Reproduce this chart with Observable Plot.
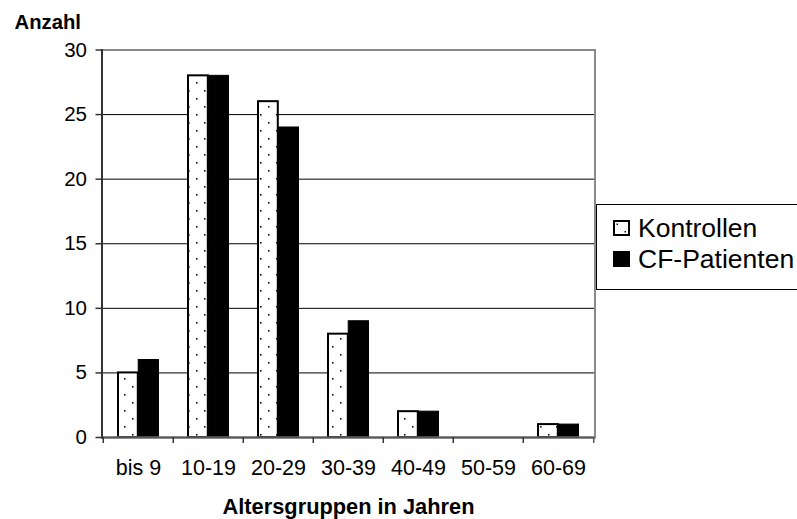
<!DOCTYPE html>
<html>
<head>
<meta charset="utf-8">
<script src="https://cdn.jsdelivr.net/npm/d3@7"></script>
<script src="https://cdn.jsdelivr.net/npm/@observablehq/plot@0.6"></script>
<style>
  html, body { margin: 0; padding: 0; background: #fff; }
  #wrap { position: relative; width: 797px; height: 519px; overflow: hidden; font-family: "Liberation Sans", Arial, sans-serif; }
  #legend { position: absolute; left: 596px; top: 204px; width: 230px; height: 86px; border: 1px solid #000; box-sizing: border-box; background: #fff; }
  .item { position: absolute; left: 16px; font-size: 26.5px; line-height: 26px; color: #000; display: flex; align-items: center; }
  .item svg { margin-right: 8px; }
</style>
</head>
<body>
<div id="wrap">
  <div id="chart"></div>
  <div id="legend"></div>
</div>
<script>
const categories = ["bis 9", "10-19", "20-29", "30-39", "40-49", "50-59", "60-69"];
const kontrollen = [5, 28, 26, 8, 2, 0, 1];
const cfPatienten = [6, 28, 24, 9, 2, 0, 1];
const yTicks = [0, 5, 10, 15, 20, 25, 30];
const gridValues = [5, 10, 15, 20, 25];
const seriesNames = ["Kontrollen", "CF-Patienten"];

const W = 797, H = 519;
const mL = 101.5, mR = 202.5, mT = 49.5, mB = 82;
const bw = (W - mL - mR) / categories.length;

const kData = categories.map((c, i) => ({cat: c, value: kontrollen[i]}));
const cData = categories.map((c, i) => ({cat: c, value: cfPatienten[i]}));

const font = "Liberation Sans, Arial, sans-serif";

const svg = Plot.plot({
  width: W, height: H,
  marginLeft: mL, marginRight: mR, marginTop: mT, marginBottom: mB,
  style: {fontFamily: font, background: "#fff", color: "#000"},
  x: {domain: categories, padding: 0, type: "band"},
  y: {domain: [0, 30]},
  marks: [
    Plot.ruleY(gridValues, {stroke: "#000", strokeWidth: 1}),
    Plot.barY(kData, {x: "cat", y: "value", filter: d => d.value > 0,
      fill: "url(#dots)", stroke: "#000", strokeWidth: 2,
      insetLeft: 15, insetRight: bw / 2}),
    Plot.barY(cData, {x: "cat", y: "value", filter: d => d.value > 0,
      fill: "#000", stroke: "#000", strokeWidth: 1,
      insetLeft: bw / 2, insetRight: 14.5}),
    Plot.frame({stroke: "#8a8a8a", strokeWidth: 2}),
    Plot.ruleY([0], {stroke: "#555", strokeWidth: 2}),
    Plot.frame({anchor: "left", stroke: "#333", strokeWidth: 2}),
    Plot.axisY({ticks: yTicks, tickSize: 6, tickPadding: 9, fontSize: 20.5, label: null, stroke: "#333", strokeWidth: 1.5}),
    Plot.axisX(categories, {tickSize: 6, tickFormat: () => "", dx: -bw / 2, label: null, stroke: "#333", strokeWidth: 1.5}),
    Plot.axisX([categories[categories.length - 1]], {tickSize: 6, tickFormat: () => "", dx: bw / 2, label: null, stroke: "#555", strokeWidth: 1.5}),
    Plot.axisX(categories, {tickSize: 0, tickPadding: 22, fontSize: 21.5, label: null}),
    Plot.text(["Altersgruppen in Jahren"], {frameAnchor: "bottom", lineAnchor: "bottom", dy: 76, fontSize: 21.8, fontWeight: "bold"}),
    Plot.text(["Anzahl"], {frameAnchor: "top-left", textAnchor: "start", lineAnchor: "bottom", dx: 14 - mL, dy: 28.5 - mT, fontSize: 20.3, fontWeight: "bold"})
  ]
});

const defs = d3.select(svg).insert("defs", ":first-child");
const pat = defs.append("pattern").attr("id", "dots").attr("patternUnits", "userSpaceOnUse")
  .attr("width", 16).attr("height", 16);
pat.append("rect").attr("width", 16).attr("height", 16).attr("fill", "#fff");
pat.append("rect").attr("x", 4).attr("y", 2).attr("width", 1.6).attr("height", 1.6).attr("fill", "#111");
pat.append("rect").attr("x", 12).attr("y", 10).attr("width", 1.6).attr("height", 1.6).attr("fill", "#111");

document.getElementById("chart").appendChild(svg);

const legend = document.getElementById("legend");
const swatches = [
  `<svg width="17" height="16"><rect x="1" y="1" width="15" height="14" fill="#fff" stroke="#000" stroke-width="2"/><rect x="3.5" y="3.5" width="1.5" height="1.5" fill="#111"/><rect x="11.5" y="11" width="1.5" height="1.5" fill="#111"/></svg>`,
  `<svg width="17" height="16"><rect x="0" y="0" width="17" height="16" fill="#000"/></svg>`
];
seriesNames.forEach((name, i) => {
  const div = document.createElement("div");
  div.className = "item";
  div.style.top = (i === 0 ? 10 : 41) + "px";
  div.innerHTML = swatches[i] + `<span>${name}</span>`;
  legend.appendChild(div);
});
</script>
</body>
</html>
